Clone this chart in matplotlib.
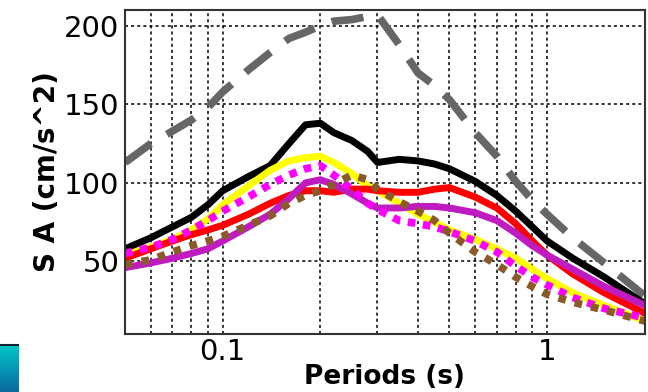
import matplotlib
matplotlib.use("Agg")
import matplotlib.pyplot as plt
import numpy as np
from matplotlib.ticker import FixedLocator, NullFormatter

# Periods (s)
periods = [0.05, 0.06, 0.07, 0.08, 0.09, 0.1, 0.12, 0.14, 0.16, 0.18, 0.2, 0.22,
           0.25, 0.28, 0.3, 0.35, 0.4, 0.45, 0.5, 0.6, 0.7, 0.8, 0.9, 1.0,
           1.2, 1.5, 2.0]

# spectral acceleration (cm/s^2)
sa_gray = [113, 125, 133, 140, 148, 158, 172, 183, 192, 196, 200, 203,
           204, 206, 207, 188, 170, 162, 153, 132, 117, 101, 89, 80,
           65, 49, 28]
sa_black = [58, 65, 72, 78, 86, 95, 104, 111, 125, 137, 138, 132,
            127, 120, 113, 115, 114, 112, 109, 101, 92, 82, 72, 63,
            52, 40, 23]
sa_yellow = [54, 59, 64, 70, 77, 86, 98, 108, 114, 116, 117, 113,
             106, 98, 95, 87, 80, 75, 70, 64, 58, 52, 45, 39,
             30, 22, 12]
sa_red = [52, 58, 63, 67, 70, 73, 80, 87, 92, 95, 95, 94,
          96, 96, 95, 94, 94, 96, 97, 91, 84, 74, 63, 54,
          42, 30, 17]
sa_purple = [46, 49, 52, 55, 58, 63, 72, 80, 90, 100, 102, 99,
             93, 87, 84, 84, 85, 85, 84, 81, 76, 68, 60, 54,
             45, 34, 22]
sa_magenta = [55, 59, 64, 70, 76, 82, 91, 99, 105, 109, 111, 105,
              96, 87, 83, 76, 74, 72, 69, 63, 56, 47, 40, 35,
              27, 20, 14]
sa_brown = [48, 51, 56, 60, 63, 66, 73, 79, 87, 92, 95, 99,
            105, 102, 96, 88, 82, 76, 68, 56, 48, 40, 34, 29,
            24, 19, 12]

fig = plt.figure(figsize=(6.48, 3.92), dpi=100)
ax = fig.add_axes([0.193, 0.149, 0.802, 0.825])

ax.plot(periods, sa_gray, color='#666666', lw=5.5, dashes=(4.2, 2.4), solid_capstyle='butt')
ax.plot(periods, sa_black, color='black', lw=5)
ax.plot(periods, sa_yellow, color='#ffff00', lw=5)
ax.plot(periods, sa_red, color='#ff0000', lw=5)
ax.plot(periods, sa_purple, color='#c01bc0', lw=5)
ax.plot(periods, sa_magenta, color='#ff00ff', lw=5.5, dashes=(1, 1), dash_capstyle='butt')
ax.plot(periods, sa_brown, color='#8b5a2b', lw=5.5, dashes=(1, 1.2), dash_capstyle='butt')

ax.set_xscale('log')
ax.set_xlim(0.05, 2.0)
ax.set_ylim(4, 210)

ax.xaxis.set_major_locator(FixedLocator([0.1, 1]))
ax.xaxis.set_major_formatter(plt.FixedFormatter(['0.1', '1']))
ax.xaxis.set_minor_locator(FixedLocator([0.06, 0.07, 0.08, 0.09, 0.2, 0.3, 0.4,
                                         0.5, 0.6, 0.7, 0.8, 0.9, 2.0]))
ax.xaxis.set_minor_formatter(NullFormatter())
ax.set_yticks([50, 100, 150, 200])

ax.grid(True, which='both', color='black', linestyle=(0, (2, 2)), lw=1.1)
ax.tick_params(which='both', length=0, labelsize=21)
ax.tick_params(axis='x', pad=3)
ax.tick_params(axis='y', pad=4)
for s in ax.spines.values():
    s.set_color('#333333')
    s.set_linewidth(1.5)

ax.set_xlabel('Periods (s)', fontsize=19, fontweight='bold', labelpad=-1)
ax.set_ylabel('S A (cm/s^2)', fontsize=20, fontweight='bold', labelpad=2)

# small cyan box at the lower left corner
box = fig.add_axes([0.0, 0.0, 0.028, 0.12])
grad = np.linspace(0, 1, 64).reshape(-1, 1)
box.imshow(grad, aspect='auto', cmap=matplotlib.colors.LinearSegmentedColormap.from_list(
    'cb', ['#00c8c8', '#0a6aa0']))
box.set_xticks([])
box.set_yticks([])
for s in box.spines.values():
    s.set_visible(False)
box.spines['top'].set_visible(True)
box.spines['top'].set_color('#123')
box.spines['top'].set_linewidth(1.5)

fig.savefig('out.png', dpi=100)
